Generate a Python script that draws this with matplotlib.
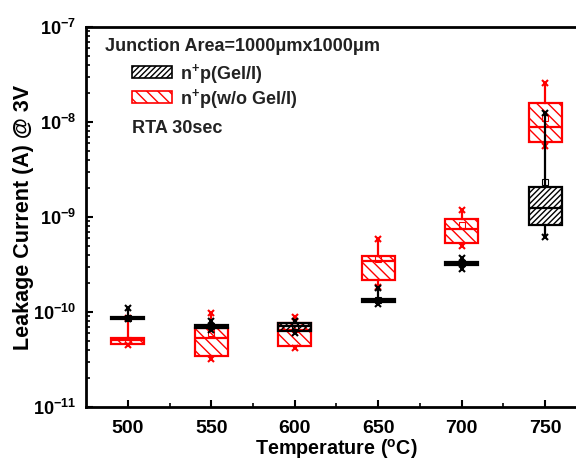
import matplotlib
matplotlib.use("Agg")
import matplotlib.pyplot as plt
from matplotlib.patches import Rectangle
from matplotlib.ticker import LogLocator, FixedLocator, NullFormatter

plt.rcParams['font.family'] = ['Liberation Sans', 'DejaVu Sans']
plt.rcParams['font.weight'] = 'bold'
plt.rcParams['mathtext.fontset'] = 'custom'
plt.rcParams['mathtext.rm'] = 'Liberation Sans:bold'
plt.rcParams['mathtext.bf'] = 'Liberation Sans:bold'
plt.rcParams['mathtext.it'] = 'Liberation Sans:bold'
plt.rcParams['hatch.linewidth'] = 1.0

temps = [500, 550, 600, 650, 700, 750]

# n+p (Gel/I)  -- black
gel_whislo = [8.4e-11, 6.5e-11, 6.0e-11, 1.22e-10, 2.81e-10, 6.2e-10]
gel_q1     = [8.4e-11, 6.8e-11, 6.3e-11, 1.28e-10, 3.15e-10, 8.2e-10]
gel_med    = [8.65e-11, 7.0e-11, 7.1e-11, 1.32e-10, 3.26e-10, 1.24e-9]
gel_q3     = [8.9e-11, 7.3e-11, 7.6e-11, 1.36e-10, 3.38e-10, 2.06e-9]
gel_whishi = [1.10e-10, 8.0e-11, 8.0e-11, 1.8e-10, 3.67e-10, 1.25e-8]
gel_mean   = [8.7e-11, 7.1e-11, 7.2e-11, 1.33e-10, 3.3e-10, 2.33e-9]

# n+p (w/o Gel/I) -- red
wo_whislo = [4.5e-11, 3.18e-11, 4.18e-11, 1.85e-10, 4.99e-10, 5.58e-9]
wo_q1     = [4.6e-11, 3.44e-11, 4.39e-11, 2.17e-10, 5.28e-10, 6.15e-9]
wo_med    = [5.07e-11, 5.28e-11, 6.47e-11, 3.44e-10, 7.43e-10, 8.93e-9]
wo_q3     = [5.37e-11, 6.84e-11, 7.7e-11, 3.92e-10, 9.53e-10, 1.57e-8]
wo_whishi = [8.65e-11, 9.8e-11, 8.9e-11, 5.82e-10, 1.19e-9, 2.6e-8]
wo_mean   = [5.1e-11, 6.0e-11, 6.6e-11, 3.6e-10, 8.2e-10, 1.1e-8]

ytick_vals = [1e-11, 1e-10, 1e-9, 1e-8, 1e-7]
ytick_labels = [r'$\mathbf{10^{-11}}$', r'$\mathbf{10^{-10}}$', r'$\mathbf{10^{-9}}$',
                r'$\mathbf{10^{-8}}$', r'$\mathbf{10^{-7}}$']

W, H = 576, 461
fig = plt.figure(figsize=(W / 100, H / 100), dpi=100)
ax = fig.add_axes([86 / W, (H - 407) / H, (587 - 86) / W, (407 - 27) / H])


def stats(lo, q1, med, q3, hi, mean):
    return [dict(whislo=a, q1=b, med=c, q3=d, whishi=e, mean=f)
            for a, b, c, d, e, f in zip(lo, q1, med, q3, hi, mean)]


def draw(st, color, hatch, z, face):
    bp = ax.bxp(st, positions=temps, widths=20, patch_artist=True,
                showfliers=False, showcaps=False, showmeans=True,
                boxprops=dict(facecolor=face, edgecolor=color, linewidth=1.6, hatch=hatch),
                medianprops=dict(color=color, linewidth=1.6),
                whiskerprops=dict(color=color, linewidth=1.6),
                meanprops=dict(marker='s', markersize=4, markerfacecolor='none',
                               markeredgecolor=color, markeredgewidth=0.8),
                manage_ticks=False, zorder=z)
    for key in ['boxes', 'medians', 'whiskers', 'means']:
        for a in bp[key]:
            a.set_zorder(z)
    ends_x = temps + temps
    ends_y = [s['whislo'] for s in st] + [s['whishi'] for s in st]
    ax.plot(ends_x, ends_y, linestyle='none', marker='x', markersize=5,
            color=color, markeredgewidth=1.5, zorder=z + 0.5)


draw(stats(wo_whislo, wo_q1, wo_med, wo_q3, wo_whishi, wo_mean), 'red', '\\\\\\', 2, 'white')
draw(stats(gel_whislo, gel_q1, gel_med, gel_q3, gel_whishi, gel_mean), 'black', '//////', 3, 'none')

ax.set_yscale('log')
ax.set_ylim(1e-11, 1e-7)
ax.set_xlim(475, 775)
ax.set_yticks(ytick_vals)
ax.set_yticklabels(ytick_labels)
ax.yaxis.set_minor_locator(LogLocator(base=10, subs=range(2, 10), numticks=20))
ax.yaxis.set_minor_formatter(NullFormatter())
ax.set_xticks(temps)
ax.set_xticklabels([str(t) for t in temps])
ax.xaxis.set_minor_locator(FixedLocator([525, 575, 625, 675, 725]))

ax.tick_params(which='major', direction='in', length=5, width=1.5, labelsize=14, pad=6)
ax.tick_params(axis='y', which='major', labelsize=13, pad=7)
ax.tick_params(axis='x', which='major', pad=9)
ax.tick_params(which='minor', direction='in', length=3, width=1.2)
for lbl in ax.get_xticklabels():
    lbl.set_fontweight('bold')
for sp in ax.spines.values():
    sp.set_linewidth(2)

ax.set_xlabel(r'Temperature ($^{\mathbf{o}}$C)', fontsize=14.2, fontweight='bold', labelpad=0)
ax.set_ylabel('Leakage Current (A) @ 3V', fontsize=15.5, fontweight='bold')
ax.yaxis.set_label_coords((34 - 86) / (587 - 86), 0.5)

txtc = '#222222'


def fy(y):
    return H - y


# legend / annotation block
ax.text(105, fy(46.7), 'Junction Area=1000\u03bcmx1000\u03bcm', transform=None,
        fontsize=13, fontweight='bold', va='center', ha='left', color=txtc)
for (y0, col, h, lab) in [(65.7, 'black', '//////', r'n$^{\mathbf{+}}$p(Gel/I)'),
                          (90.5, 'red', '\\\\\\', r'n$^{\mathbf{+}}$p(w/o Gel/I)')]:
    r = Rectangle((131.7, fy(y0) - 12.6), 40, 12.6, transform=None,
                  facecolor='white', edgecolor=col, hatch=h, linewidth=1.2, zorder=5)
    fig.patches.append(r)
    ax.text(180, fy(y0 + 8), lab, transform=None, fontsize=13, fontweight='bold',
            va='center', ha='left', color=txtc)

ax.text(131.7, fy(128), 'RTA 30sec', transform=None, fontsize=13, fontweight='bold',
        va='center', ha='left', color=txtc)

fig.savefig('out.png', dpi=100)
